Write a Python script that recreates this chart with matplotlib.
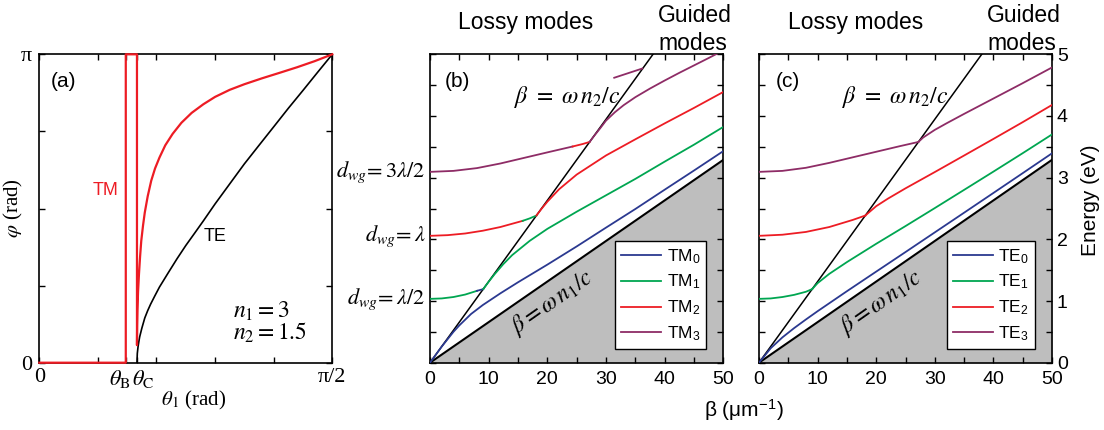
"""Reflection phase (a) and slab-waveguide dispersion for TM (b) / TE (c) modes."""
import matplotlib
matplotlib.use("Agg")
import matplotlib.pyplot as plt
from matplotlib.ticker import FixedLocator, MultipleLocator

plt.rcParams["font.family"] = ["Liberation Sans", "DejaVu Sans"]
plt.rcParams["mathtext.fontset"] = "stix"

# ───────────────────────────────────────────────────────────────
# Data
# ───────────────────────────────────────────────────────────────

# (a) reflection phase vs. incidence angle, n1 = 3, n2 = 1.5
theta_b = 0.4636
theta_c = 0.5236
theta_te = [0.5236, 0.5254, 0.5294, 0.5341, 0.5382, 0.5498, 0.5655, 0.5812,
            0.5969, 0.6189, 0.6440, 0.6896, 0.7383, 0.7854, 0.8325, 0.8796,
            0.9425, 1.0210, 1.0996, 1.1781, 1.2566, 1.3352, 1.4137, 1.4923,
            1.5708]
phi_te = [0.0, 0.094, 0.163, 0.220, 0.264, 0.352, 0.456, 0.531,
          0.597, 0.679, 0.770, 0.911, 1.059, 1.194, 1.319, 1.445,
          1.618, 1.822, 2.026, 2.215, 2.403, 2.592, 2.774, 2.959,
          3.1416]
theta_tm = [0.0, 0.4636, 0.4636, 0.5236, 0.5236, 0.5246, 0.5262, 0.5294,
            0.5341, 0.5404, 0.5466, 0.5561, 0.5655, 0.5812, 0.6000, 0.6205,
            0.6440, 0.6754, 0.7147, 0.7618, 0.8168, 0.8796, 0.9425, 1.0210,
            1.0996, 1.1938, 1.2881, 1.3823, 1.4765, 1.5708]
phi_tm = [0.0, 0.0, 3.1416, 3.1416, 0.179, 0.377, 0.534, 0.723,
          0.895, 1.084, 1.241, 1.398, 1.530, 1.696, 1.854, 1.979,
          2.089, 2.215, 2.331, 2.444, 2.545, 2.633, 2.708, 2.780,
          2.837, 2.897, 2.953, 3.010, 3.072, 3.1416]

# light lines beta = omega n / c  (beta in 1/um, energy in eV)
beta_line = [0.0, 50.0]
energy_n1 = [0.0, 3.289]
energy_n2 = [0.0, 6.578]

# (b) TM modes: guided branches
beta_tm0 = [0, 2, 4, 5, 7, 9, 12, 15, 20, 25, 30, 35, 40, 45, 50]
energy_tm0 = [0, 0.262, 0.501, 0.605, 0.79, 0.935, 1.125, 1.304, 1.59,
              1.885, 2.19, 2.492, 2.805, 3.116, 3.431]
beta_tm1 = [9.07, 10, 11, 12.5, 14, 17, 20, 25, 30, 35, 40, 45, 50]
energy_tm1 = [1.193, 1.313, 1.434, 1.599, 1.744, 1.976, 2.17, 2.448, 2.714,
              2.98, 3.26, 3.535, 3.823]
beta_tm2 = [18.14, 19, 20, 22, 25, 30, 35, 40, 45, 50]
energy_tm2 = [2.386, 2.494, 2.61, 2.812, 3.05, 3.36, 3.622, 3.88, 4.131, 4.39]
beta_tm3 = [27.2, 28, 29, 30, 31.5, 33, 35, 37.5, 40, 42.5, 45, 47.5, 50]
energy_tm3 = [3.579, 3.68, 3.80, 3.925, 4.06, 4.175, 4.305, 4.445, 4.575,
              4.70, 4.82, 4.94, 5.063]
beta_tm3_top = [31.4, 33, 34.6, 36.2]
energy_tm3_top = [4.62, 4.67, 4.72, 4.77]

# (b) TM lossy branches (colour changes just before the light line)
beta_tm_lossy1 = [0, 2, 4, 6, 8.0]
energy_tm_lossy1 = [1.035, 1.042, 1.065, 1.105, 1.165]
beta_tm_lossy1_end = [8.0, 9.07]
energy_tm_lossy1_end = [1.165, 1.193]
beta_tm_lossy2 = [0, 3, 6, 9, 12, 15.8]
energy_tm_lossy2 = [2.057, 2.068, 2.095, 2.14, 2.2, 2.30]
beta_tm_lossy2_end = [15.8, 17, 18.14]
energy_tm_lossy2_end = [2.30, 2.34, 2.386]
beta_tm_lossy3 = [0, 4, 8, 12, 16, 20, 24.3]
energy_tm_lossy3 = [3.094, 3.11, 3.155, 3.23, 3.32, 3.41, 3.505]
beta_tm_lossy3_end = [24.3, 26, 27.2]
energy_tm_lossy3_end = [3.505, 3.545, 3.579]

# (c) TE modes: guided branches
beta_te0 = [0, 2, 4, 6, 8, 10, 15, 20, 25, 30, 35, 40, 45, 50]
energy_te0 = [0, 0.235, 0.411, 0.5615, 0.7005, 0.835, 1.159, 1.477, 1.794,
              2.113, 2.432, 2.752, 3.073, 3.395]
beta_te1 = [9.07, 10, 12, 15, 20, 25, 30, 35, 40, 45, 50]
energy_te1 = [1.193, 1.29, 1.441, 1.631, 1.928, 2.215, 2.507, 2.802, 3.098,
              3.397, 3.701]
beta_te2 = [18.14, 20, 22, 25, 30, 35, 40, 45, 50]
energy_te2 = [2.386, 2.538, 2.66, 2.827, 3.091, 3.359, 3.628, 3.9, 4.179]
beta_te3 = [27.2, 28, 30, 32, 35, 40, 45, 50]
energy_te3 = [3.579, 3.65, 3.775, 3.881, 4.034, 4.283, 4.532, 4.787]

# (c) TE lossy branches
beta_te_lossy1 = [0, 2, 4, 6, 8, 9.07]
energy_te_lossy1 = [1.035, 1.042, 1.065, 1.10, 1.15, 1.193]
beta_te_lossy2 = [0, 4, 8, 12, 16, 18.14]
energy_te_lossy2 = [2.057, 2.075, 2.12, 2.2, 2.315, 2.386]
beta_te_lossy3 = [0, 4, 8, 12, 16, 20, 24, 27.2]
energy_te_lossy3 = [3.094, 3.11, 3.16, 3.24, 3.33, 3.42, 3.51, 3.579]

mode_labels_tm = ["TM", "TM", "TM", "TM"]
mode_labels_te = ["TE", "TE", "TE", "TE"]
slab_labels = [r"$d_{wg}\!=3\lambda/2$", r"$d_{wg}\!=\lambda$", r"$d_{wg}\!=\lambda/2$"]
slab_energies = [3.094, 2.057, 1.035]

# ───────────────────────────────────────────────────────────────
# Styling
# ───────────────────────────────────────────────────────────────

C_BLUE = "#2b3990"
C_GREEN = "#00a651"
C_RED = "#ed1c24"
C_PURPLE = "#8e2c66"
C_GREY = "#bebebe"
MODE_COLORS = [C_BLUE, C_GREEN, C_RED, C_PURPLE]
SERIF = "Liberation Serif"


def _style_axes(ax, spine_w=1.2):
    for sp in ax.spines.values():
        sp.set_linewidth(spine_w)
    ax.tick_params(which="both", direction="in", top=True, right=True,
                   length=4.5, width=1.0, labelsize=14)


def _dispersion_axes(ax):
    ax.set_xlim(0, 50)
    ax.set_ylim(0, 5)
    ax.xaxis.set_major_locator(MultipleLocator(10))
    ax.xaxis.set_minor_locator(MultipleLocator(5))
    ax.yaxis.set_major_locator(MultipleLocator(1))
    ax.yaxis.set_minor_locator(MultipleLocator(0.5))
    _style_axes(ax)
    ax.tick_params(axis="x", pad=6)
    ax.fill_between(beta_line, 0, energy_n1, color=C_GREY, lw=0, zorder=1)
    ax.plot(beta_line, energy_n1, color="black", lw=1.5, zorder=3)
    ax.plot(beta_line, energy_n2, color="black", lw=1.1, zorder=3)
    ax.text(23.3, 4.3, r"$\beta\ =\ \omega\, n_2/c$", fontsize=17,
            ha="center", va="center", zorder=6)
    ax.text(20.8, 0.98, r"$\beta = \omega\, n_1/c$", fontsize=17, rotation=35,
            ha="center", va="center", zorder=6)


def _legend(ax, handles, names):
    labels = [rf"{n}$_{{\mathregular{{{i}}}}}$" for i, n in enumerate(names)]
    leg = ax.legend(handles, labels, loc="lower right",
                    bbox_to_anchor=(0.942, 0.045), fontsize=12.5,
                    frameon=True, fancybox=False, framealpha=1,
                    edgecolor="black", handlelength=2.3, handletextpad=0.3,
                    labelspacing=0.42, borderpad=0.35, borderaxespad=0)
    leg.get_frame().set_linewidth(1.0)
    leg.set_zorder(7)


fig = plt.figure(figsize=(11.04, 4.30), dpi=100)
ax_a = fig.add_axes([0.0356, 0.1565, 0.2654, 0.7172])
ax_b = fig.add_axes([0.3895, 0.1565, 0.2657, 0.7172])
ax_c = fig.add_axes([0.6875, 0.1565, 0.2654, 0.7172])

# ── (a) ──────────────────────────────────────────────────────────
ax_a.set_xlim(0, 1.5708)
ax_a.set_ylim(0, 3.1416)
_style_axes(ax_a)
ax_a.plot(theta_te, phi_te, color="black", lw=1.2, zorder=4)
ax_a.plot(theta_tm, phi_tm, color=C_RED, lw=1.6, zorder=5, clip_on=False)
ax_a.xaxis.set_major_locator(FixedLocator([0, theta_b, theta_c, 1.5708]))
ax_a.xaxis.set_minor_locator(FixedLocator([0.3142, 0.6283, 0.9425, 1.2566]))
ax_a.set_xticklabels(["0", "", "", "π/2"], family=SERIF, fontsize=16)
ax_a.yaxis.set_major_locator(FixedLocator([0, 3.1416]))
ax_a.yaxis.set_minor_locator(FixedLocator([0.7854, 1.5708, 2.3562]))
ax_a.set_yticklabels(["0", "π"], family=SERIF, fontsize=16)
ax_a.tick_params(axis="x", which="major", pad=4)
ax_a.tick_params(axis="y", which="major", pad=5)
# Brewster / critical angle labels sit side by side under the axis
ax_a.text(0.434, -0.018, r"$\theta_{\mathrm{B}}$", transform=ax_a.get_xaxis_transform(),
          fontsize=16, ha="center", va="top")
ax_a.text(0.556, -0.018, r"$\theta_{\mathrm{C}}$", transform=ax_a.get_xaxis_transform(),
          fontsize=16, ha="center", va="top")
ax_a.text(0.525, -0.121, r"$\theta_1$ (rad)", transform=ax_a.transAxes,
          family=SERIF, fontsize=15, ha="center", va="center")
ax_a.text(-0.088, 0.5, r"$\varphi$ (rad)", transform=ax_a.transAxes,
          family=SERIF, fontsize=15, rotation=90, ha="center", va="center")
ax_a.text(0.084, 0.913, "(a)", transform=ax_a.transAxes, fontsize=15,
          ha="center", va="center")
ax_a.text(0.3576, 1.759, "TM", color=C_RED, fontsize=13, ha="center", va="center")
ax_a.text(0.9425, 1.289, "TE", color="black", fontsize=13, ha="center", va="center")
ax_a.text(0.661, 0.168, r"$n_1 = 3$", transform=ax_a.transAxes, fontsize=17,
          ha="left", va="center")
ax_a.text(0.661, 0.096, r"$n_2 = 1.5$", transform=ax_a.transAxes, fontsize=17,
          ha="left", va="center")

# ── (b) TM dispersion ────────────────────────────────────────────
_dispersion_axes(ax_b)
ax_b.tick_params(labelleft=False)
lw_m = 1.3
ax_b.plot(beta_tm_lossy1, energy_tm_lossy1, color=C_GREEN, lw=lw_m, zorder=4)
ax_b.plot(beta_tm_lossy1_end, energy_tm_lossy1_end, color=C_BLUE, lw=lw_m, zorder=4)
ax_b.plot(beta_tm_lossy2, energy_tm_lossy2, color=C_RED, lw=lw_m, zorder=4)
ax_b.plot(beta_tm_lossy2_end, energy_tm_lossy2_end, color=C_GREEN, lw=lw_m, zorder=4)
ax_b.plot(beta_tm_lossy3, energy_tm_lossy3, color=C_PURPLE, lw=lw_m, zorder=4)
ax_b.plot(beta_tm_lossy3_end, energy_tm_lossy3_end, color=C_RED, lw=lw_m, zorder=4)
ax_b.plot(beta_tm3_top, energy_tm3_top, color=C_PURPLE, lw=lw_m, zorder=4)
tm_handles = []
for bx, ey, col in zip([beta_tm0, beta_tm1, beta_tm2, beta_tm3],
                       [energy_tm0, energy_tm1, energy_tm2, energy_tm3],
                       MODE_COLORS):
    h, = ax_b.plot(bx, ey, color=col, lw=lw_m, zorder=4)
    tm_handles.append(h)
_legend(ax_b, tm_handles, mode_labels_tm)
ax_b.text(0.093, 0.913, "(b)", transform=ax_b.transAxes, fontsize=15,
          ha="center", va="center")
for lab, e in zip(slab_labels, slab_energies):
    ax_b.text(-0.015, e, lab, transform=ax_b.get_yaxis_transform(),
              fontsize=16, ha="right", va="center")

# ── (c) TE dispersion ────────────────────────────────────────────
_dispersion_axes(ax_c)
ax_c.tick_params(labelleft=False, labelright=True)
ax_c.plot(beta_te_lossy1, energy_te_lossy1, color=C_GREEN, lw=lw_m, zorder=4)
ax_c.plot(beta_te_lossy2, energy_te_lossy2, color=C_RED, lw=lw_m, zorder=4)
ax_c.plot(beta_te_lossy3, energy_te_lossy3, color=C_PURPLE, lw=lw_m, zorder=4)
te_handles = []
for bx, ey, col in zip([beta_te0, beta_te1, beta_te2, beta_te3],
                       [energy_te0, energy_te1, energy_te2, energy_te3],
                       MODE_COLORS):
    h, = ax_c.plot(bx, ey, color=col, lw=lw_m, zorder=4)
    te_handles.append(h)
_legend(ax_c, te_handles, mode_labels_te)
ax_c.text(0.099, 0.913, "(c)", transform=ax_c.transAxes, fontsize=15,
          ha="center", va="center")
ax_c.text(1.13, 0.528, "Energy (eV)", transform=ax_c.transAxes, rotation=90,
          fontsize=15, ha="center", va="center")

# ── shared annotations ───────────────────────────────────────────
for x_lossy, x_guided in [(458 / 1104, 658 / 1104), (788 / 1104, 987 / 1104)]:
    fig.text(x_lossy, 0.9326, "Lossy modes", fontsize=16.5, ha="left", va="baseline")
    fig.text(x_guided, 0.949, "Guided", fontsize=16.5, ha="left", va="baseline")
    fig.text(x_guided, 0.884, "modes", fontsize=16.5, ha="left", va="baseline")
fig.text(744 / 1104, 0.046, r"β (μm$^{\mathregular{-1}}$)", fontsize=15,
         ha="center", va="center")

fig.savefig("out.png", dpi=100, facecolor="white")
plt.close(fig)
